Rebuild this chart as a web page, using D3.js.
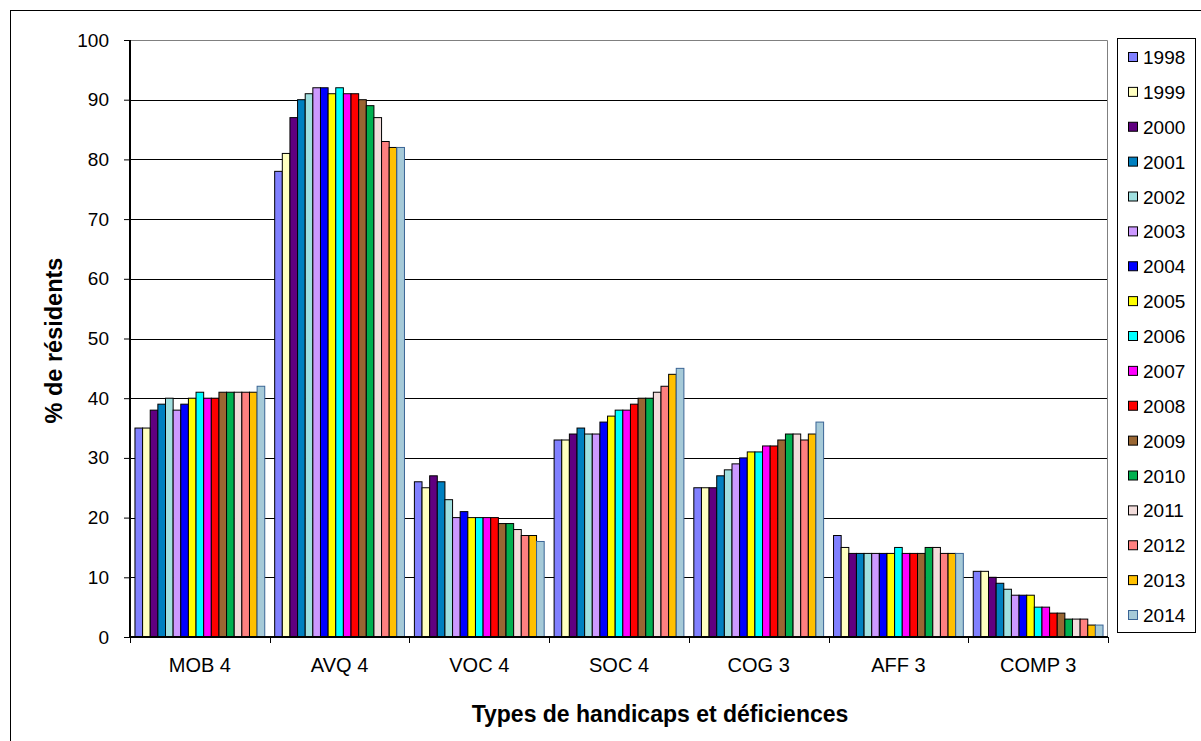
<!DOCTYPE html>
<html>
<head>
<meta charset="utf-8">
<script src="https://cdn.jsdelivr.net/npm/d3@7"></script>
<style>
  body { margin: 0; background: #fff; }
  svg text { font-family: "Liberation Sans", Arial, sans-serif; fill: #000; }
</style>
</head>
<body>
<div id="chart"></div>
<script>
// categories and years
var categories = ["MOB 4", "AVQ 4", "VOC 4", "SOC 4", "COG 3", "AFF 3", "COMP 3"];
var years = ["1998", "1999", "2000", "2001", "2002", "2003", "2004", "2005", "2006",
    "2007", "2008", "2009", "2010", "2011", "2012", "2013", "2014"];

// % de résidents, one array per category (1998 -> 2014)
var mob4 = [35, 35, 38, 39, 40, 38, 39, 40, 41, 40, 40, 41, 41, 41, 41, 41, 42];
var avq4 = [78, 81, 87, 90, 91, 92, 92, 91, 92, 91, 91, 90, 89, 87, 83, 82, 82];
var voc4 = [26, 25, 27, 26, 23, 20, 21, 20, 20, 20, 20, 19, 19, 18, 17, 17, 16];
var soc4 = [33, 33, 34, 35, 34, 34, 36, 37, 38, 38, 39, 40, 40, 41, 42, 44, 45];
var cog3 = [25, 25, 25, 27, 28, 29, 30, 31, 31, 32, 32, 33, 34, 34, 33, 34, 36];
var aff3 = [17, 15, 14, 14, 14, 14, 14, 14, 15, 14, 14, 14, 15, 15, 14, 14, 14];
var comp3 = [11, 11, 10, 9, 8, 7, 7, 7, 5, 5, 4, 4, 3, 3, 3, 2, 2];
var values = [mob4, avq4, voc4, soc4, cog3, aff3, comp3];

var yTicks = [0, 10, 20, 30, 40, 50, 60, 70, 80, 90, 100];

var colors = ["#8080FF", "#FFFFC0", "#600080", "#0080C0", "#A0E0E0", "#CC99FF", "#0000FF",
    "#FFFF00", "#00FFFF", "#FF00FF", "#FF0000", "#996633", "#00B050", "#F2DCDB",
    "#FF8080", "#FFC000", "#A6CAD8"];
/*---------------------------------------------------------------------------------------*/

var data = [];
categories.forEach(function (c, i) {
    years.forEach(function (y, j) {
        data.push({ category: c, year: y, value: values[i][j] });
    });
});

var margin = { top: 40, right: 93, bottom: 104, left: 130 },
    width = 1201 - margin.left - margin.right,
    height = 741 - margin.top - margin.bottom;

var svg = d3.select("#chart").append("svg")
    .attr("width", 1201)
    .attr("height", 741);

// outer frame of the chart
svg.append("rect")
    .attr("x", 10.5).attr("y", 10.5)
    .attr("width", 1200).attr("height", 740)
    .attr("fill", "none").attr("stroke", "#000");

var g = svg.append("g")
    .attr("transform", "translate(" + margin.left + "," + margin.top + ")");

var x0 = d3.scaleBand()
    .domain(categories)
    .range([0, width])
    .padding(0);

var x1 = d3.scaleBand()
    .domain(years)
    .range([0, x0.bandwidth()])
    .paddingInner(0)
    .paddingOuter(0.65);

var yScale = d3.scaleLinear()
    .domain([0, 100])
    .range([height, 0]);

var color = d3.scaleOrdinal().domain(years).range(colors);

// gridlines
g.append("g")
    .selectAll("line")
    .data(yTicks.slice(1, -1))
    .enter()
    .append("line")
    .attr("x1", 0).attr("x2", width)
    .attr("y1", function (d) { return Math.round(yScale(d)) + 0.5; })
    .attr("y2", function (d) { return Math.round(yScale(d)) + 0.5; })
    .attr("stroke", "#000");

// plot area border (top & right)
g.append("path")
    .attr("d", "M0,0.5H" + (width - 0.5) + "V" + height)
    .attr("fill", "none")
    .attr("stroke", "#808080");

// bars
g.selectAll(".bar")
    .data(data)
    .enter()
    .append("rect")
    .attr("class", "bar")
    .attr("x", function (d) { return x0(d.category) + x1(d.year); })
    .attr("y", function (d) { return yScale(d.value); })
    .attr("width", x1.bandwidth())
    .attr("height", function (d) { return height - yScale(d.value); })
    .attr("fill", function (d) { return color(d.year); })
    .attr("stroke", function (d) { return d.year === "2014" ? "#3A6495" : "#000"; })
    .attr("stroke-width", 1);

// y axis
var yAxis = d3.axisLeft(yScale)
    .tickValues(yTicks)
    .tickSize(6)
    .tickPadding(15);

var yg = g.append("g")
    .attr("class", "yAxis")
    .call(yAxis);
yg.select(".domain").attr("stroke", "#000").attr("stroke-width", 2)
    .attr("d", "M0,0V" + height);
yg.selectAll(".tick line").attr("stroke", "#000");
yg.selectAll(".tick text")
    .style("font-size", "19px")
    .style("font-family", "Liberation Sans, Arial, sans-serif");

// x axis: labels centered, ticks on category boundaries
var xAxis = d3.axisBottom(x0).tickSize(0).tickPadding(21);
var xg = g.append("g")
    .attr("class", "xAxis")
    .attr("transform", "translate(0," + height + ")")
    .call(xAxis);
xg.select(".domain").attr("stroke", "#000").attr("stroke-width", 2)
    .attr("d", "M0,0H" + width);
xg.selectAll(".tick text")
    .style("font-size", "20px")
    .style("font-family", "Liberation Sans, Arial, sans-serif");

var bounds = categories.map(function (c) { return x0(c); }).concat([width]);
xg.selectAll(".bound")
    .data(bounds)
    .enter()
    .append("line")
    .attr("class", "bound")
    .attr("x1", function (d) { return Math.round(d) + 0.5; })
    .attr("x2", function (d) { return Math.round(d) + 0.5; })
    .attr("y1", 0).attr("y2", 6)
    .attr("stroke", "#000");

// axis titles
svg.append("text")
    .attr("x", 660)
    .attr("y", 722)
    .attr("text-anchor", "middle")
    .attr("font-weight", "bold")
    .style("font-size", "23px")
    .text("Types de handicaps et déficiences");

svg.append("text")
    .attr("transform", "translate(62," + (margin.top + height / 2 + 2) + ") rotate(-90)")
    .attr("text-anchor", "middle")
    .attr("font-weight", "bold")
    .style("font-size", "23.5px")
    .text("% de résidents");

// legend
var legend = svg.append("g")
    .attr("class", "legend")
    .attr("transform", "translate(1117,38)");

legend.append("rect")
    .attr("x", 0.5).attr("y", 0.5)
    .attr("width", 78).attr("height", 594)
    .attr("fill", "#fff")
    .attr("stroke", "#000");

var item = legend.selectAll(".item")
    .data(years)
    .enter()
    .append("g")
    .attr("class", "item")
    .attr("transform", function (d, i) { return "translate(0," + (19 + i * 34.875) + ")"; });

item.append("rect")
    .attr("x", 11.5).attr("y", -4.5)
    .attr("width", 9).attr("height", 9)
    .attr("fill", function (d) { return color(d); })
    .attr("stroke", function (d) { return d === "2014" ? "#3A6495" : "#000"; });

item.append("text")
    .attr("x", 26)
    .attr("y", 7)
    .style("font-size", "19px")
    .text(function (d) { return d; });
</script>
</body>
</html>
